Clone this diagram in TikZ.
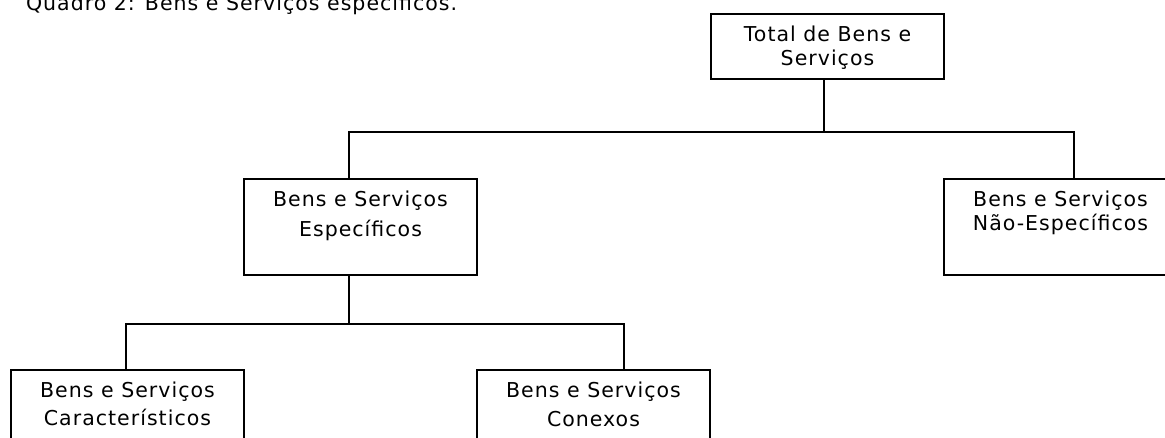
\documentclass[tikz,border=0pt]{standalone}
\usepackage{fontspec}
\setmainfont[LetterSpace=5]{DejaVu Sans}

\begin{document}
\begin{tikzpicture}[x=1pt,y=-1pt]
  \tikzstyle{every node} = [inner sep = 0,
                            outer sep = 0]
  \tikzstyle{caixa} = [draw, line width = 2.6pt, minimum width = 233pt, anchor = north west]
  \tikzstyle{rotulo} = [align = center, anchor = north, font = \fontsize{20.5}{24}\selectfont]
\tikzset{Ligacao/.style={line width = 1.8pt}}
\useasboundingbox (0,0) rectangle (1165,437);

\node[anchor = base west, font = \fontsize{20.5}{24}\selectfont] (titulo) at (26,10) {Quadro 2: Bens e Serviços específicos.};

\node[caixa, minimum height = 65pt] (total) at (711,14) {};
\node[caixa, minimum height = 96pt] (espec) at (244,179) {};
\node[caixa, minimum height = 96pt] (naoespec) at (944,179) {};
\node[caixa, minimum height = 100pt] (caract) at (11,370) {};
\node[caixa, minimum height = 100pt] (conexos) at (477,370) {};

\node[rotulo] (totalT) at ([yshift=-12pt]total.north) {Total de Bens e\\Serviços};
\node[rotulo, font = \fontsize{20.5}{30}\selectfont] (especT) at ([yshift=-12pt]espec.north) {Bens e Serviços\\Específicos};
\node[rotulo] (naoespecT) at ([yshift=-12pt]naoespec.north) {Bens e Serviços\\Não-Específicos};
\node[rotulo, font = \fontsize{20.5}{28}\selectfont] (caractT) at ([yshift=-12pt]caract.north) {Bens e Serviços\\Característicos};
\node[rotulo, font = \fontsize{20.5}{29}\selectfont] (conexosT) at ([yshift=-12pt]conexos.north) {Bens e Serviços\\Conexos};

\coordinate (ramoA) at (824,132);
\coordinate (ramoB) at (349,324);
\draw[Ligacao] ([xshift=-3.5pt]total.south) -- (ramoA);
\draw[Ligacao] ([xshift=-11.5pt]espec.north) |- (ramoA) -| ([xshift=13.5pt]naoespec.north);
\draw[Ligacao] ([xshift=-11.5pt]espec.south) -- (ramoB);
\draw[Ligacao] ([xshift=-1.5pt]caract.north) |- (ramoB) -| ([xshift=30.5pt]conexos.north);

\end{tikzpicture}
\end{document}
